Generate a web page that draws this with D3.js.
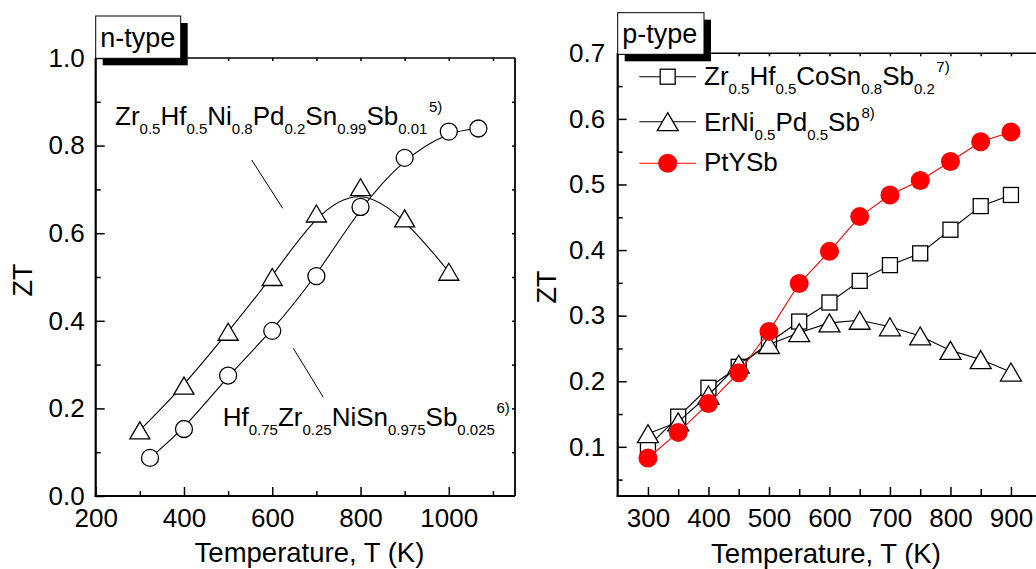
<!DOCTYPE html>
<html>
<head>
<meta charset="utf-8">
<script src="https://cdn.jsdelivr.net/npm/d3@7"></script>
<style>
  body { margin: 0; background: #fff; }
  svg { display: block; }
  text { font-family: Arial, "Liberation Sans", Helvetica, sans-serif; fill: #000; }
</style>
</head>
<body>
<svg id="chart" width="1036" height="569"></svg>
<script>
// ---------- n-type panel data ----------
const nTriTemps = [300, 400, 500, 600, 700, 800, 900, 1000];
const nTriZT = [0.150, 0.252, 0.375, 0.500, 0.645, 0.705, 0.634, 0.512];
const nCircTemps = [323, 400, 500, 600, 700, 800, 900, 1000, 1067];
const nCircZT = [0.087, 0.153, 0.275, 0.377, 0.502, 0.660, 0.772, 0.832, 0.839];
const nXMajor = [200, 400, 600, 800, 1000];
const nXMinor = [300, 500, 700, 900, 1100];
const nYMajor = [0.0, 0.2, 0.4, 0.6, 0.8, 1.0];
const nYMinor = [0.1, 0.3, 0.5, 0.7, 0.9];

// ---------- p-type panel data ----------
const pTemps = [300, 350, 400, 450, 500, 550, 600, 650, 700, 750, 800, 850, 900];
const pSquareZT = [0.100, 0.146, 0.190, 0.222, 0.259, 0.291, 0.320, 0.353, 0.377, 0.395, 0.431, 0.467, 0.484];
const pTriZT = [0.120, 0.138, 0.179, 0.226, 0.256, 0.274, 0.289, 0.293, 0.283, 0.269, 0.247, 0.233, 0.214];
const pPtYSbZT = [0.083, 0.122, 0.166, 0.213, 0.276, 0.349, 0.398, 0.451, 0.484, 0.506, 0.535, 0.565, 0.580];
const pXMajor = [300, 400, 500, 600, 700, 800, 900];
const pXMinor = [350, 450, 550, 650, 750, 850];
const pYMajor = [0.1, 0.2, 0.3, 0.4, 0.5, 0.6, 0.7];
const pYMinor = [0.05, 0.15, 0.25, 0.35, 0.45, 0.55, 0.65];

// ---------- labels (segments: normal / sub / sup) ----------
const nTriLabel = [["Zr",""],["0.5","sub"],["Hf",""],["0.5","sub"],["Ni",""],["0.8","sub"],["Pd",""],["0.2","sub"],["Sn",""],["0.99","sub"],["Sb",""],["0.01","sub"],["5)","sup"]];
const nCircLabel = [["Hf",""],["0.75","sub"],["Zr",""],["0.25","sub"],["NiSn",""],["0.975","sub"],["Sb",""],["0.025","sub"],["6)","sup"]];
const pSquareLabel = [["Zr",""],["0.5","sub"],["Hf",""],["0.5","sub"],["CoSn",""],["0.8","sub"],["Sb",""],["0.2","sub"],["7)","sup"]];
const pTriLabel = [["ErNi",""],["0.5","sub"],["Pd",""],["0.5","sub"],["Sb",""],["8)","sup"]];
const pPtYSbLabel = [["PtYSb",""]];
const axisTitleX = "Temperature, T (K)";
const axisTitleY = "ZT";

const svg = d3.select("#chart");

// ---------- helpers ----------
function richText(g, x, y, segs, size, subSize) {
  const t = g.append("text").attr("x", x).attr("y", y).attr("font-size", size);
  let cur = 0;
  segs.forEach(([s, k]) => {
    const off = k === "sub" ? 8.5 : k === "sup" ? -13 : 0;
    t.append("tspan")
      .attr("dx", k === "sup" ? 1.5 : 0)
      .attr("dy", off - cur)
      .attr("font-size", k ? subSize : size)
      .text(s);
    cur = off;
  });
  return t;
}

function trianglePath(w, h) {
  return `M0,${-h / 2}L${w / 2},${h / 2}L${-w / 2},${h / 2}Z`;
}

function styleAxis(sel, fontSize) {
  sel.select(".domain").remove();
  sel.selectAll(".tick line").attr("stroke", "#000").attr("stroke-width", 1.5);
  sel.selectAll("text").attr("font-size", fontSize).attr("fill", "#000")
    .attr("font-family", 'Arial, "Liberation Sans", Helvetica, sans-serif');
}

function drawFrame(g, x, y, o) {
  const [x0, x1] = x.range();
  const [yb, yt] = y.range();
  // bottom axis (inward ticks)
  g.append("g").attr("transform", `translate(0,${yb})`)
    .call(d3.axisBottom(x).tickValues(o.xMajor).tickSizeInner(-9).tickSizeOuter(0)
      .tickPadding(13).tickFormat(d3.format("d")))
    .call(s => styleAxis(s, 26));
  g.append("g").attr("transform", `translate(0,${yb})`)
    .call(d3.axisBottom(x).tickValues(o.xMinor).tickSizeInner(o.xMinorLen).tickSizeOuter(0).tickFormat(() => ""))
    .call(s => styleAxis(s, 26));
  // left axis
  g.append("g").attr("transform", `translate(${x0},0)`)
    .call(d3.axisLeft(y).tickValues(o.yMajor).tickSizeInner(-9).tickSizeOuter(0)
      .tickPadding(o.yPad).tickFormat(d3.format(".1f")))
    .call(s => styleAxis(s, 26));
  g.append("g").attr("transform", `translate(${x0},0)`)
    .call(d3.axisLeft(y).tickValues(o.yMinor).tickSizeInner(-5).tickSizeOuter(0).tickFormat(() => ""))
    .call(s => styleAxis(s, 26));
  // top axis: short inward ticks
  g.append("g").attr("transform", `translate(0,${yt})`)
    .call(d3.axisTop(x).tickValues(o.topTicks).tickSizeInner(-3).tickSizeOuter(0).tickFormat(() => ""))
    .call(s => styleAxis(s, 26));
  if (o.rightTicks) {
    g.append("g").attr("transform", `translate(${x1},0)`)
      .call(d3.axisRight(y).tickValues(o.rightTicks).tickSizeInner(-3).tickSizeOuter(0).tickFormat(() => ""))
      .call(s => styleAxis(s, 26));
  }
  // frame lines
  g.append("line").attr("x1", x0).attr("x2", x1).attr("y1", yt).attr("y2", yt)
    .attr("stroke", "#000").attr("stroke-width", 1.6);
  g.append("line").attr("x1", x1).attr("x2", x1).attr("y1", yt).attr("y2", yb)
    .attr("stroke", "#000").attr("stroke-width", 1.8);
  g.append("line").attr("x1", x0 - 1).attr("x2", x1).attr("y1", yb).attr("y2", yb)
    .attr("stroke", "#000").attr("stroke-width", 2.2);
  g.append("line").attr("x1", x0).attr("x2", x0).attr("y1", yt).attr("y2", yb + 1)
    .attr("stroke", "#000").attr("stroke-width", 2.2);
}

function typeBox(g, x, y, w, h, label) {
  g.append("rect").attr("x", x + 7).attr("y", y + 7).attr("width", w).attr("height", h).attr("fill", "#000");
  g.append("rect").attr("x", x).attr("y", y).attr("width", w).attr("height", h)
    .attr("fill", "#fff").attr("stroke", "#000").attr("stroke-width", 1);
  g.append("text").attr("x", x + 4.5).attr("y", y + 30.5).attr("font-size", 27).text(label);
}

// ================= n-type panel =================
const gN = svg.append("g");
const xN = d3.scaleLinear().domain([200, 1150]).range([95.7, 515]);
const yN = d3.scaleLinear().domain([0, 1]).range([496, 58]);

drawFrame(gN, xN, yN, {
  xMajor: nXMajor, xMinor: nXMinor, xMinorLen: -5,
  yMajor: nYMajor, yMinor: nYMinor, yPad: 11,
  topTicks: d3.range(300, 1101, 100),
  rightTicks: d3.range(0.1, 0.95, 0.1)
});

const lineN = d3.line().x(d => xN(d[0])).y(d => yN(d[1])).curve(d3.curveBasis);
const nTri = nTriTemps.map((t, i) => [t, nTriZT[i]]);
const nCirc = nCircTemps.map((t, i) => [t, nCircZT[i]]);

gN.append("path").attr("d", lineN(nTri)).attr("fill", "none").attr("stroke", "#000").attr("stroke-width", 1.1);
gN.append("path").attr("d", lineN(nCirc)).attr("fill", "none").attr("stroke", "#000").attr("stroke-width", 1.1);

gN.selectAll("path.ntri").data(nTri).join("path").attr("class", "ntri")
  .attr("transform", d => `translate(${xN(d[0])},${yN(d[1])})`)
  .attr("d", trianglePath(20, 17))
  .attr("fill", "#fff").attr("stroke", "#000").attr("stroke-width", 1.3);
gN.selectAll("circle.ncirc").data(nCirc).join("circle").attr("class", "ncirc")
  .attr("cx", d => xN(d[0])).attr("cy", d => yN(d[1])).attr("r", 8.5)
  .attr("fill", "#fff").attr("stroke", "#000").attr("stroke-width", 1.3);

// annotations with leader lines
richText(gN, 115, 125, nTriLabel, 26, 15);
gN.append("line").attr("x1", 251.7).attr("y1", 160).attr("x2", 282.7).attr("y2", 208.3)
  .attr("stroke", "#000").attr("stroke-width", 1);
richText(gN, 222.7, 426, nCircLabel, 26, 15);
gN.append("line").attr("x1", 293.3).attr("y1", 348.3).attr("x2", 323.3).attr("y2", 397.3)
  .attr("stroke", "#000").attr("stroke-width", 1);

// axis titles
gN.append("text").attr("x", 309.5).attr("y", 562).attr("text-anchor", "middle").attr("font-size", 27.5).text(axisTitleX);
gN.append("text").attr("transform", "translate(31.5,280) rotate(-90)").attr("text-anchor", "middle")
  .attr("font-size", 27).text(axisTitleY);

typeBox(gN, 95.7, 16, 85, 42.3, "n-type");

// ================= p-type panel =================
const gP = svg.append("g");
const xP = d3.scaleLinear().domain([250, 950]).range([617.7, 1041.2]);
const yP = d3.scaleLinear().domain([0.025, 0.7]).range([496, 53.3]);

drawFrame(gP, xP, yP, {
  xMajor: pXMajor, xMinor: pXMinor, xMinorLen: -7,
  yMajor: pYMajor, yMinor: pYMinor, yPad: 12.5,
  topTicks: d3.range(300, 951, 50),
  rightTicks: null
});

const lineP = d3.line().x(d => xP(d[0])).y(d => yP(d[1]));
const pSq = pTemps.map((t, i) => [t, pSquareZT[i]]);
const pTr = pTemps.map((t, i) => [t, pTriZT[i]]);
const pPt = pTemps.map((t, i) => [t, pPtYSbZT[i]]);

// squares
gP.append("path").attr("d", lineP(pSq)).attr("fill", "none").attr("stroke", "#000").attr("stroke-width", 1.1);
gP.selectAll("rect.psq").data(pSq).join("rect").attr("class", "psq")
  .attr("x", d => xP(d[0]) - 7.5).attr("y", d => yP(d[1]) - 7.5).attr("width", 15).attr("height", 15)
  .attr("fill", "#fff").attr("stroke", "#000").attr("stroke-width", 1.3);
// triangles
gP.append("path").attr("d", lineP(pTr)).attr("fill", "none").attr("stroke", "#000").attr("stroke-width", 1.1);
gP.selectAll("path.ptri").data(pTr).join("path").attr("class", "ptri")
  .attr("transform", d => `translate(${xP(d[0])},${yP(d[1])})`)
  .attr("d", trianglePath(21, 18))
  .attr("fill", "#fff").attr("stroke", "#000").attr("stroke-width", 1.3);
// PtYSb
gP.append("path").attr("d", lineP(pPt)).attr("fill", "none").attr("stroke", "#ff0000").attr("stroke-width", 1.1);
gP.selectAll("circle.ppt").data(pPt).join("circle").attr("class", "ppt")
  .attr("cx", d => xP(d[0])).attr("cy", d => yP(d[1])).attr("r", 9.5)
  .attr("fill", "#ff0000");

// legend
const legX0 = 639.3, legX1 = 696, legXm = 667.7, legTx = 704;
const legRows = [76.7, 121.7, 163.3];
// row 1: squares
gP.append("line").attr("x1", legX0).attr("x2", legX1).attr("y1", legRows[0]).attr("y2", legRows[0]).attr("stroke", "#000").attr("stroke-width", 1.1);
gP.append("rect").attr("x", legXm - 7.5).attr("y", legRows[0] - 7.5).attr("width", 15).attr("height", 15)
  .attr("fill", "#fff").attr("stroke", "#000").attr("stroke-width", 1.3);
richText(gP, legTx, 85, pSquareLabel, 26, 15);
// row 2: triangles
gP.append("line").attr("x1", legX0).attr("x2", legX1).attr("y1", legRows[1]).attr("y2", legRows[1]).attr("stroke", "#000").attr("stroke-width", 1.1);
gP.append("path").attr("transform", `translate(${legXm},${legRows[1]})`).attr("d", trianglePath(21, 18))
  .attr("fill", "#fff").attr("stroke", "#000").attr("stroke-width", 1.3);
richText(gP, legTx, 131, pTriLabel, 26, 15);
// row 3: PtYSb
gP.append("line").attr("x1", legX0).attr("x2", legX1).attr("y1", legRows[2]).attr("y2", legRows[2]).attr("stroke", "#ff0000").attr("stroke-width", 1.1);
gP.append("circle").attr("cx", legXm).attr("cy", legRows[2]).attr("r", 9.5).attr("fill", "#ff0000");
richText(gP, legTx, 170.7, pPtYSbLabel, 26, 15);

// axis titles
gP.append("text").attr("x", 826).attr("y", 562.5).attr("text-anchor", "middle").attr("font-size", 27.5).text(axisTitleX);
gP.append("text").attr("transform", "translate(555.5,287) rotate(-90)").attr("text-anchor", "middle")
  .attr("font-size", 27).text(axisTitleY);

typeBox(gP, 617.7, 12.7, 86.3, 41.6, "p-type");
</script>
</body>
</html>
